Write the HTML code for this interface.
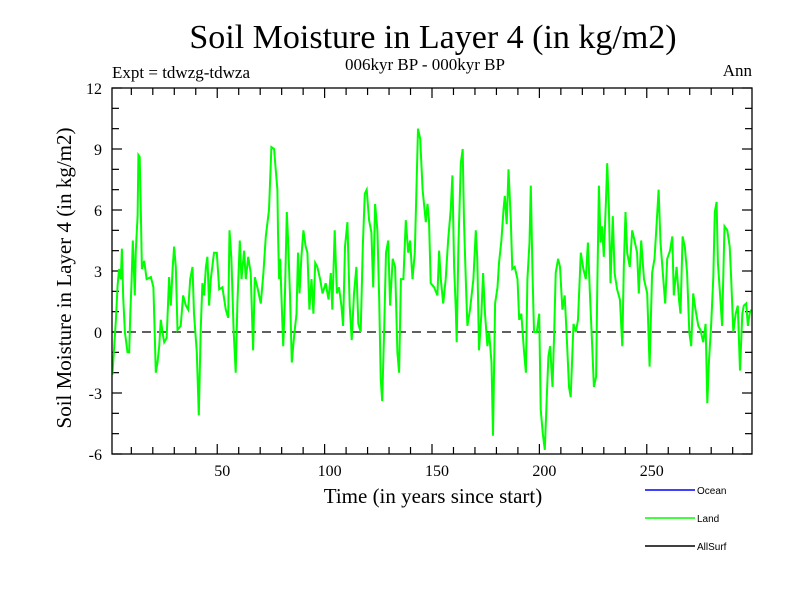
<!DOCTYPE html>
<html><head><meta charset="utf-8"><style>
body{margin:0;background:#fff}
svg{display:block}
text{font-family:"Liberation Serif",serif;fill:#000}
</style></head><body>
<svg id="chart" width="800" height="600" xmlns="http://www.w3.org/2000/svg">
<text x="433" y="48" font-size="34" text-anchor="middle">Soil Moisture in Layer 4 (in kg/m2)</text>
<text x="425" y="70" font-size="17" text-anchor="middle">006kyr BP - 000kyr BP</text>
<text x="112" y="78" font-size="17">Expt = tdwzg-tdwza</text>
<text x="752" y="76" font-size="17" text-anchor="end">Ann</text>
<text x="433" y="503" font-size="21" text-anchor="middle">Time (in years since start)</text>
<text transform="translate(71,278) rotate(-90)" font-size="21" text-anchor="middle">Soil Moisture in Layer 4 (in kg/m2)</text>
<g id="ticks"></g>
<line x1="112" x2="752" y1="332" y2="332" stroke="#000" stroke-width="1.3" stroke-dasharray="9,6"/>
<path id="land" fill="none" stroke="#00ff00" stroke-width="2"/>
<rect x="112" y="88" width="640" height="366" fill="none" stroke="#000" stroke-width="1.3"/>
<g font-size="10">
<line x1="645" x2="695" y1="490" y2="490" stroke="#0000ff" stroke-width="1.5"/>
<text x="697" y="494" font-size="10" style="font-family:'Liberation Sans',sans-serif">Ocean</text>
<line x1="645" x2="695" y1="518" y2="518" stroke="#00ff00" stroke-width="1.5"/>
<text x="697" y="522" font-size="10" style="font-family:'Liberation Sans',sans-serif">Land</text>
<line x1="645" x2="695" y1="546" y2="546" stroke="#000" stroke-width="1.5"/>
<text x="697" y="550" font-size="10" style="font-family:'Liberation Sans',sans-serif">AllSurf</text>
</g>
</svg>
<script>
const years=[1.2,2.8,3.6,4.3,5.1,5.6,6.2,7.0,8.2,9.0,9.5,10.1,10.7,11.6,12.1,12.9,13.3,13.9,14.4,14.9,16.0,17.1,19.1,20.3,20.8,21.4,22.2,23.0,23.7,24.5,25.3,26.4,26.8,27.6,28.4,29.2,29.9,30.7,31.5,33.0,34.1,35.4,36.5,37.4,38.5,39.2,40.5,41.4,42.3,43.1,43.9,44.7,45.4,46.2,47.0,48.5,49.8,50.9,52.4,54.0,55.1,55.7,56.6,57.6,58.6,59.4,60.5,61.3,62.5,63.3,64.4,65.6,66.7,67.5,68.7,70.3,71.5,
72.6,74.1,75.2,76.5,77.2,78.0,78.3,78.8,79.3,79.9,80.7,81.4,82.4,83.0,83.9,84.7,85.8,86.9,87.6,88.3,89.2,90.1,91.2,92.0,92.9,93.9,94.8,95.6,96.6,97.9,99.0,100.5,101.8,102.9,103.6,104.7,105.7,106.7,107.8,108.6,109.5,110.6,111.7,112.6,113.7,114.8,115.7,116.8,117.8,118.7,119.6,120.7,121.8,122.6,123.5,124.6,125.4,126.1,126.8,127.7,128.6,129.6,130.5,131.7,132.8,133.9,134.7,135.5,136.7,137.8,138.9,139.8,140.9,142.0,142.9,143.5,144.5,145.6,
147.1,147.9,148.6,149.4,151.0,152.5,153.3,154.1,155.2,156.4,157.5,158.7,159.5,160.3,161.1,161.5,162.3,163.4,164.3,164.9,165.9,166.5,167.7,169.3,170.4,171.1,171.9,173.0,173.8,174.7,175.8,176.6,177.7,178.4,179.4,180.5,181.2,182.3,183.3,183.9,184.8,185.6,186.7,187.4,188.5,189.8,190.6,191.6,192.9,193.7,194.4,195.4,196.0,196.8,197.5,198.8,199.9,200.6,201.6,202.5,203.4,204.2,205.0,206.1,206.9,207.6,208.7,209.6,210.7,211.8,212.8,213.8,214.6,215.9,217.0,218.0,219.3,220.5,221.6,
222.6,223.5,224.6,225.4,226.4,226.9,227.7,228.5,229.2,230.0,231.0,231.6,232.3,233.1,234.2,235.0,236.2,237.5,238.6,239.3,240.1,240.9,242.1,243.2,244.3,245.5,246.3,247.4,248.7,250.2,251.3,252.5,253.6,254.6,255.5,256.4,257.7,258.6,259.5,260.8,261.9,262.6,263.9,265.0,265.7,266.7,267.7,268.8,269.8,270.7,271.6,272.7,274.0,275.0,276.3,277.4,278.2,279.0,280.0,281.0,281.7,282.5,283.1,284.1,285.1,286.2,287.5,288.6,289.3,290.3,291.4,292.4,293.4,294.5,295.2,296.3,297.1,297.9,298.7];
const landValues=[-2.1,0.6,2.3,3.1,2.6,4.1,1.7,0,-1,-1,0.9,2.4,4.5,1.8,4,5.7,8.7,8.6,6,3.1,3.5,2.6,2.7,2.2,0.3,-2,-1.5,-0.7,0.6,0,-0.5,-0.3,0.6,2.7,1.3,3.1,4.2,3.2,0.1,0.3,1.8,1.3,1.1,2.6,3.2,0.9,-1,-4.1,0.1,2.4,1.8,3.2,3.7,1.3,2.6,3.9,3.9,2.1,2.2,1.1,0.7,5,3.6,0.1,-2,1.4,4.5,2.6,4,2.6,3.7,2.9,-0.9,2.7,2.2,1.4,2.9,
4.7,6,9.1,9,8,7,4.9,2.6,3.6,1.8,-0.7,1.3,5.9,4.5,1.8,-1.5,-0.2,0.9,3.9,1.9,3.7,5,4.2,3.9,1.1,2.6,0.9,3.4,3.2,2.6,1.9,2.4,1.6,2.9,1.1,5,1.9,2.2,1.3,0.3,4.2,5.4,1.3,-0.4,1.9,3.2,0.4,0,4.2,6.8,7,5.5,4.9,2.2,6.3,5,1.6,-2.3,-3.4,0,3.9,4.5,1.3,3.6,3.2,-1,-2,2.6,2.6,5.5,3.9,4.5,2.6,3.9,7.7,10,9.5,7,
5.4,6.3,5.5,2.4,2.2,1.8,4,2.6,1.4,2.6,4.5,6,7.7,3.2,1.1,-0.5,4.2,8.3,9,5.4,2.1,0.3,1.1,2.6,5,3.6,-0.9,0.9,2.9,0.9,-0.7,0,-1.5,-5.1,1.4,2.2,3.4,4.5,6,6.7,5.3,8,5.5,3.1,3.2,2.6,0.6,0.9,-1,-2,2.6,4.4,7.2,2.9,0,0,0.9,-3.8,-5,-5.8,-3.3,-1.2,-0.7,-2.7,0,2.9,3.6,3.2,1.1,1.8,-0.4,-2.7,-3.2,0.4,0,0.6,3.9,3.1,2.6,
4.4,1.9,-0.7,-2.7,-2.2,1.9,7.2,4.4,5.2,3.7,6.5,8.3,6.3,2.4,5.7,2.9,2.1,1.6,-0.7,3.2,5.9,3.9,3.2,5,4.5,3.9,1.9,4.5,2.6,1.9,-1.7,2.9,3.6,5.3,7,4.4,2.6,1.4,3.6,4,4.7,1.8,3.2,1.6,0.9,4.7,4.2,2.9,0,-0.7,1.9,1.1,0.3,0.1,-0.5,0.4,-3.5,-1.4,0.4,2.7,5.9,6.4,3.4,1.9,0.3,5.2,5,4.2,2.6,0,0.9,1.3,-1.9,0.9,1.3,1.4,0.3,0.9,1.1];
const yTickLabels=[-6,-3,0,3,6,9,12];
const xTickLabels=[50,100,150,200,250];
const X0=112,X1=752,Y0=454,Y1=88,XMIN=1,XMAX=299,YMIN=-6,YMAX=12;
function xs(v){return X0+(v-XMIN)/(XMAX-XMIN)*(X1-X0);}
function ys(v){return Y0-(v-YMIN)/(YMAX-YMIN)*(Y0-Y1);}
const NS="http://www.w3.org/2000/svg";
const tg=document.getElementById('ticks');
function ln(x1,y1,x2,y2){const l=document.createElementNS(NS,'line');l.setAttribute('x1',x1);l.setAttribute('y1',y1);l.setAttribute('x2',x2);l.setAttribute('y2',y2);l.setAttribute('stroke','#000');l.setAttribute('stroke-width','1.2');


tg.appendChild(l);}
for(let v=YMIN;v<=YMAX;v++){const y=ys(v);const L=(v%3===0)?10:7;ln(X0,y,X0+L,y);ln(X1,y,X1-L,y);}
for(let v=10;v<XMAX;v+=10){const x=xs(v);const L=(v%50===0)?10:7;ln(x,Y0,x,Y0-L);ln(x,Y1,x,Y1+L);}
yTickLabels.forEach(v=>{const t=document.createElementNS(NS,'text');t.setAttribute('x',102);t.setAttribute('y',ys(v)+6);t.setAttribute('font-size','16');t.setAttribute('text-anchor','end');t.textContent=v;


tg.appendChild(t);});
xTickLabels.forEach(v=>{const t=document.createElementNS(NS,'text');t.setAttribute('x',xs(v)+5);t.setAttribute('y',476);t.setAttribute('font-size','16');t.setAttribute('text-anchor','middle');t.textContent=v;


tg.appendChild(t);});
let d='';years.forEach((yr,i)=>{d+=(i?'L':'M')+xs(yr).toFixed(1)+','+ys(landValues[i]).toFixed(1);});
document.getElementById('land').setAttribute('d',d);
</script>
</body></html>
